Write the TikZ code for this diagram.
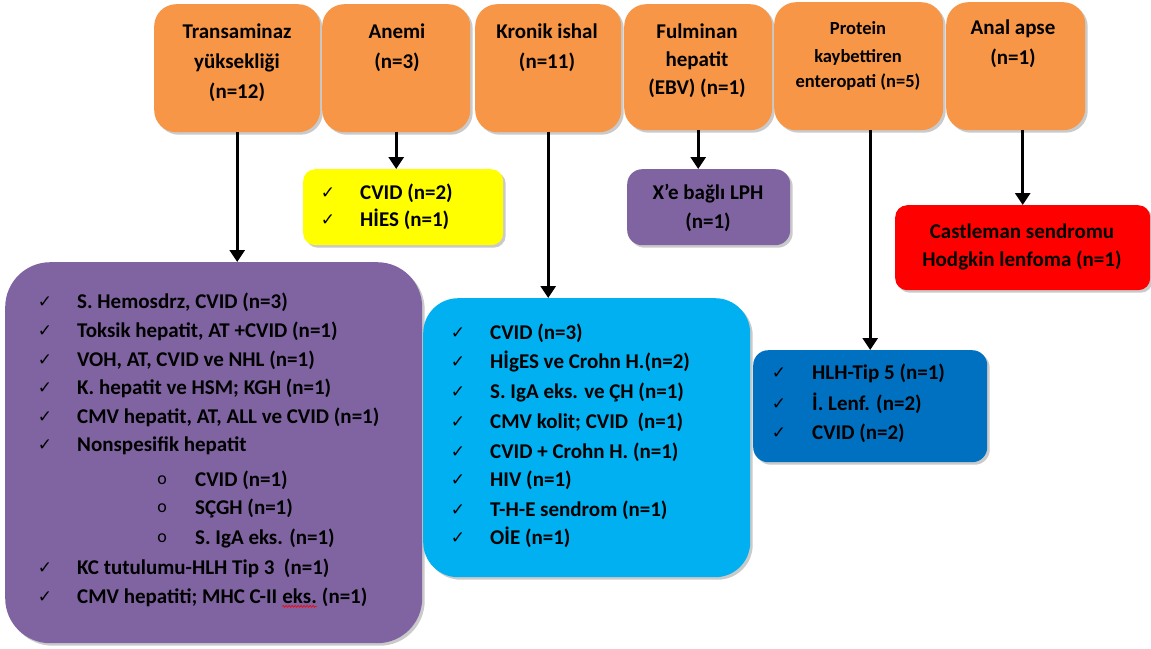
\documentclass[tikz,border=0pt]{standalone}
\usepackage{fontspec}
\setmainfont{Carlito}
\newfontfamily\symfont{DejaVu Sans}
\usetikzlibrary{shadows,arrows.meta,decorations.pathmorphing}
\definecolor{orng}{HTML}{F79646}
\definecolor{purp}{HTML}{8064A2}
\definecolor{cyn}{HTML}{00B0F0}
\definecolor{blu}{HTML}{0070C0}
\definecolor{yel}{HTML}{FFFF00}
\definecolor{rd}{HTML}{FF0000}
\tikzset{
 box/.style={draw=none, anchor=north west, inner sep=0pt,
   drop shadow={shadow xshift=2.5pt, shadow yshift=-2.5pt, opacity=0.35, fill=black!60}},
 txt/.style={inner sep=0pt, font=\fontsize{21}{25}\selectfont\bfseries, text=black},
 ttl/.style={txt, anchor=base},
 ttls/.style={ttl, font=\fontsize{18.5}{22}\selectfont\bfseries},
 item/.style={txt, anchor=base west},
 chk/.style={inner sep=0pt, anchor=base, font=\symfont\fontsize{17}{19}\selectfont},
 sub/.style={inner sep=0pt, anchor=base, font=\fontsize{18}{20}\selectfont},
 arr/.style={line width=3.3pt, -{Triangle[width=15pt,length=12pt]}},
 squig/.style={draw=red, line width=0.7pt, decorate, decoration={snake, amplitude=0.9pt, segment length=3pt}},
}
\begin{document}
\begin{tikzpicture}[x=1pt,y=-1pt]
\useasboundingbox (0,0) rectangle (1151,648);

% top boxes
\node[box, fill=orng, rounded corners=22pt, minimum width=166pt, minimum height=128pt] (t1) at (154,4) {};
\node[box, fill=orng, rounded corners=22pt, minimum width=148pt, minimum height=128pt] (t2) at (322,4) {};
\node[box, fill=orng, rounded corners=22pt, minimum width=146pt, minimum height=128pt] (t3) at (475,4) {};
\node[box, fill=orng, rounded corners=22pt, minimum width=148pt, minimum height=126pt] (t4) at (624,4) {};
\node[box, fill=orng, rounded corners=22pt, minimum width=169pt, minimum height=128pt] (t5) at (774,2) {};
\node[box, fill=orng, rounded corners=22pt, minimum width=139pt, minimum height=128pt] (t6) at (946,2) {};

% lower boxes
\node[box, fill=purp, rounded corners=45pt, minimum width=417pt, minimum height=381pt] (p1) at (5,262) {};
\node[box, fill=yel, rounded corners=12pt, minimum width=200pt, minimum height=76pt] (y1) at (303,169) {};
\node[box, fill=purp, rounded corners=15pt, minimum width=163pt, minimum height=76pt] (p2) at (627,169) {};
\node[box, fill=cyn, rounded corners=35pt, minimum width=327pt, minimum height=279pt] (c1) at (423,298) {};
\node[box, fill=blu, rounded corners=15pt, minimum width=234pt, minimum height=112pt] (b1) at (753,350) {};
\node[box, fill=rd, rounded corners=12pt, minimum width=255pt, minimum height=85pt] (r1) at (895,205) {};

% titles
\node[ttl] (t1a) at (237,38) {Transaminaz};
\node[ttl] (t1b) at (237,68) {yüksekliği};
\node[ttl] (t1c) at (237,98) {(n=12)};
\node[ttl] (t2a) at (397,38) {Anemi};
\node[ttl] (t2b) at (397,68) {(n=3)};
\node[ttl] (t3a) at (547,38) {Kronik ishal};
\node[ttl] (t3b) at (547,68) {(n=11)};
\node[ttl] (t4a) at (697,38) {Fulminan};
\node[ttl] (t4b) at (697,66) {hepatit};
\node[ttl] (t4c) at (697,94) {(EBV) (n=1)};
\node[ttls] (t5a) at (858,34) {Protein};
\node[ttls] (t5b) at (858,62) {kaybettiren};
\node[ttls] (t5c) at (858,87) {enteropati (n=5)};
\node[ttl] (t6a) at (1013,34) {Anal apse};
\node[ttl] (t6b) at (1013,64) {(n=1)};

% big purple list
\foreach \y/\t [count=\i] in {302/{S. Hemosdrz, CVID (n=3)},
  331/{Toksik hepatit, AT +CVID (n=1)},
  360/{VOH, AT, CVID ve NHL (n=1)},
  388/{K. hepatit ve HSM; KGH (n=1)},
  417/{CMV hepatit, AT, ALL ve CVID (n=1)},
  445/{Nonspesifik hepatit},
  568/{KC tutulumu-HLH Tip 3\ \ (n=1)}}{
  \node[chk] (pk\i) at (45,\y+5) {✓};
  \node[item] (pi\i) at (77,\y+6) {\t};
}
\node[chk] (pk8) at (45,602) {✓};
\node[item] (pi8) at (77,603) {CMV hepatiti; MHC C-II};
\node[item, xshift=4.7pt] (pe8) at (pi8.base east) {eks.};
\node[item, xshift=4.7pt] (pn8) at (pe8.base east) {(n=1)};
\draw[squig] ([yshift=-3pt]pe8.south west) -- ([yshift=-3pt]pe8.south east);

\foreach \y/\t [count=\i] in {480/{CVID (n=1)}, 508/{SÇGH (n=1)}, 538/{S. IgA eks. (n=1)}}{
  \node[sub] (ps\i) at (162,\y+4) {o};
  \node[item] (pj\i) at (195,\y+6) {\t};
}

% cyan list
\foreach \y/\t [count=\i] in {333/{CVID (n=3)},
  362/{HİgES ve Crohn H.(n=2)},
  392/{S. IgA eks. ve ÇH (n=1)},
  422/{CMV kolit; CVID\ \ (n=1)},
  452/{CVID + Crohn H. (n=1)},
  480/{HIV (n=1)},
  510/{T-H-E sendrom (n=1)},
  538/{OİE (n=1)}}{
  \node[chk] (ck\i) at (458,\y+5) {✓};
  \node[item] (ci\i) at (490,\y+6) {\t};
}

% blue list
\foreach \y/\t [count=\i] in {373/{HLH-Tip 5 (n=1)}, 404/{İ. Lenf. (n=2)}, 433/{CVID (n=2)}}{
  \node[chk] (bk\i) at (779,\y+5) {✓};
  \node[item] (bi\i) at (812,\y+6) {\t};
}

% yellow list
\foreach \y/\t [count=\i] in {193/{CVID (n=2)}, 220/{HİES (n=1)}}{
  \node[chk] (yk\i) at (328,\y+5) {✓};
  \node[item] (yi\i) at (360,\y+6) {\t};
}

% small purple
\node[ttl] (p2a) at (708,199) {X’e bağlı LPH};
\node[ttl] (p2b) at (708,228) {(n=1)};

% red
\node[ttl] (r1a) at (1022,238) {Castleman sendromu};
\node[ttl] (r1b) at (1022,266) {Hodgkin lenfoma (n=1)};

% arrows
\draw[arr] (t1.south) -- (t1.south |- p1.north);
\draw[arr] (t2.south) -- (t2.south |- y1.north);
\draw[arr] (t3.south) -- (t3.south |- c1.north);
\draw[arr] (t4.south) -- (t4.south |- p2.north);
\draw[arr] (t5.south -| b1.north) -- (b1.north);
\draw[arr] (t6.south -| r1.north) -- (r1.north);
\end{tikzpicture}
\end{document}
